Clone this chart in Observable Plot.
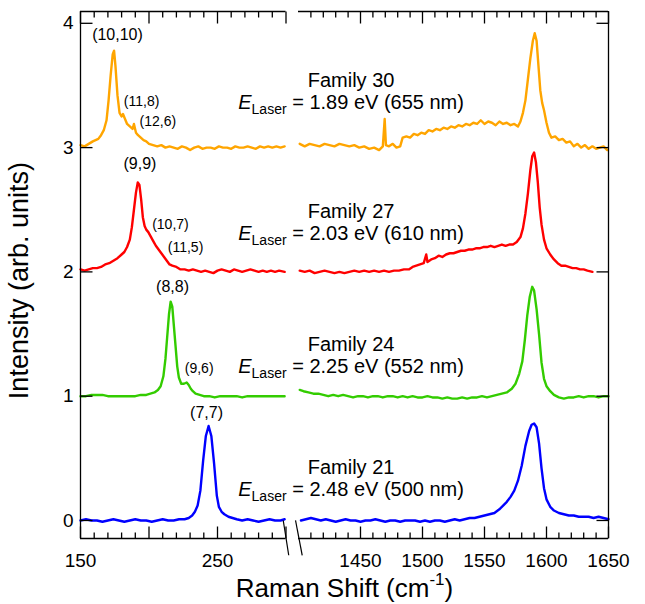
<!DOCTYPE html>
<html><head><meta charset="utf-8">
<script src="https://cdn.jsdelivr.net/npm/d3@7"></script>
<script src="https://cdn.jsdelivr.net/npm/@observablehq/plot@0.6"></script>
<style>
body{margin:0;background:#fff;}
#chart{position:relative;width:645px;height:604px;}
#chart svg{position:absolute;left:0;top:0;}
</style></head><body><div id="chart"></div>
<script>
// ---------- data (Raman shift cm^-1, offset intensity) ----------
const fam30L = [[150,3.02],[153,3.01],[156,3.03],[159,3.05],[161,3.06],[163,3.07],[165,3.10],[167,3.14],[169,3.22],[170.5,3.38],[172,3.58],[173.5,3.75],[174.5,3.78],[175.5,3.66],[177,3.42],[178.5,3.28],[180,3.25],[181,3.27],[182.5,3.23],[184,3.19],[186,3.17],[188,3.15],[189,3.19],[190.5,3.12],[192,3.10],[194,3.08],[196,3.06],[198,3.05],[200,3.03],[203,3.02],[206,3.01],[209,3.02],[212,3.00],[215,3.01],[218,3.00],[221,2.99],[224,3.01],[227,3.00],[230,2.98],[233,3.00],[236,3.01],[239,2.99],[242,3.00],[245,3.00],[248,2.99],[251,3.01],[254,3.00],[257,3.00],[260,2.99],[263,3.01],[266,3.00],[269,3.00],[272,3.01],[275,3.00],[278,2.99],[281,3.01],[284,3.00],[287,3.01],[290,3.00],[293,3.01],[296,3.00],[299,3.01]];
const fam30R = [[1401,3.03],[1405,3.01],[1409,3.03],[1413,3.02],[1417,3.01],[1421,3.03],[1425,3.02],[1429,3.01],[1433,3.03],[1437,3.02],[1441,3.01],[1445,3.02],[1449,3.00],[1453,3.01],[1457,2.99],[1461,3.00],[1465,2.98],[1468,3.01],[1469.5,3.23],[1470.5,3.02],[1473,3.01],[1476,3.03],[1479,3.00],[1482,3.01],[1484,3.08],[1487,3.09],[1490,3.08],[1493,3.11],[1496,3.10],[1499,3.12],[1502,3.11],[1505,3.14],[1508,3.13],[1511,3.15],[1514,3.14],[1517,3.16],[1520,3.15],[1523,3.17],[1526,3.16],[1529,3.18],[1532,3.17],[1535,3.19],[1538,3.18],[1541,3.20],[1544,3.19],[1547,3.22],[1550,3.19],[1553,3.21],[1556,3.20],[1559,3.18],[1562,3.21],[1565,3.19],[1568,3.20],[1571,3.18],[1574,3.19],[1577,3.17],[1579,3.21],[1581,3.28],[1583,3.38],[1585,3.55],[1587,3.72],[1589,3.86],[1590.5,3.92],[1592,3.86],[1593.5,3.66],[1595,3.46],[1596.5,3.36],[1598,3.30],[1600,3.20],[1602,3.12],[1604,3.08],[1607,3.09],[1610,3.06],[1613,3.07],[1616,3.04],[1619,3.05],[1622,3.01],[1625,3.03],[1628,3.00],[1631,3.02],[1634,2.99],[1637,3.01],[1640,2.99],[1643,3.00],[1646,3.01],[1649,2.98]];
const fam27L = [[150,2.02],[153,2.01],[156,2.02],[159,2.03],[162,2.03],[165,2.04],[168,2.06],[171,2.07],[174,2.09],[177,2.11],[180,2.14],[182,2.16],[184,2.20],[186,2.26],[187.5,2.36],[189,2.50],[190.5,2.64],[191.8,2.72],[193,2.70],[194.3,2.58],[195.5,2.44],[196.8,2.37],[198,2.34],[199.5,2.32],[201,2.29],[203,2.25],[205,2.21],[207,2.18],[209,2.15],[211,2.12],[213,2.09],[215,2.06],[217,2.05],[220,2.04],[223,2.02],[226,2.02],[229,2.01],[232,2.02],[235,2.01],[238,2.00],[241,2.01],[244,2.00],[247,1.99],[250,2.01],[253,2.02],[256,2.01],[259,2.00],[262,2.02],[265,2.01],[268,2.00],[271,2.01],[274,2.02],[277,2.01],[280,2.00],[283,2.01],[286,2.00],[289,2.01],[292,2.00],[295,2.01],[299,2.00]];
const fam27R = [[1401,2.01],[1405,2.00],[1409,2.01],[1413,1.99],[1417,2.00],[1421,2.01],[1425,2.00],[1429,1.99],[1433,2.00],[1437,1.99],[1441,2.00],[1445,2.01],[1449,2.00],[1453,2.01],[1457,2.00],[1461,2.01],[1465,2.00],[1469,2.01],[1473,2.00],[1477,2.01],[1481,2.01],[1485,2.02],[1489,2.02],[1492,2.04],[1495,2.05],[1498,2.06],[1501,2.07],[1503,2.14],[1504,2.08],[1507,2.10],[1510,2.11],[1513,2.13],[1516,2.12],[1519,2.14],[1522,2.15],[1525,2.15],[1528,2.16],[1531,2.17],[1534,2.17],[1537,2.18],[1540,2.18],[1543,2.19],[1546,2.19],[1549,2.20],[1552,2.20],[1555,2.21],[1558,2.20],[1561,2.21],[1564,2.22],[1567,2.21],[1570,2.22],[1573,2.22],[1576,2.24],[1579,2.28],[1581,2.35],[1583,2.47],[1585,2.63],[1587,2.82],[1588.5,2.93],[1590,2.96],[1591.5,2.88],[1593,2.72],[1594.5,2.52],[1596,2.38],[1598,2.26],[1600,2.19],[1603,2.14],[1606,2.10],[1609,2.07],[1612,2.05],[1615,2.05],[1618,2.04],[1621,2.03],[1624,2.03],[1627,2.02],[1630,2.02],[1633,2.01],[1637,2.00]];
const fam24L = [[150,1.00],[154,1.00],[158,1.01],[162,1.01],[166,1.01],[170,1.00],[174,1.00],[178,1.00],[182,1.00],[186,1.00],[190,1.00],[194,1.01],[198,1.01],[201,1.02],[204,1.03],[206.5,1.05],[208.5,1.08],[210.5,1.16],[212,1.30],[213.3,1.48],[214.6,1.66],[215.8,1.76],[217,1.72],[218.2,1.56],[219.4,1.40],[220.6,1.24],[221.8,1.15],[223.5,1.10],[225.5,1.10],[227.5,1.11],[229,1.09],[230.5,1.06],[232,1.04],[234,1.02],[237,1.01],[240,1.00],[244,1.00],[248,0.99],[252,1.00],[256,1.00],[260,1.00],[264,1.00],[268,0.99],[272,1.00],[276,1.00],[280,1.00],[284,1.00],[288,1.00],[292,1.00],[296,1.00],[299,1.00]];
const fam24R = [[1401,1.05],[1404,1.04],[1408,1.03],[1412,1.02],[1416,1.02],[1420,1.01],[1424,1.00],[1428,1.01],[1432,1.00],[1436,1.01],[1440,1.00],[1444,0.99],[1448,1.00],[1452,1.00],[1456,0.99],[1460,1.00],[1464,1.00],[1468,0.99],[1472,1.00],[1476,1.00],[1480,0.99],[1484,1.00],[1488,0.99],[1492,1.00],[1496,0.99],[1500,0.99],[1504,1.00],[1508,0.99],[1512,0.99],[1516,0.98],[1520,0.99],[1524,0.98],[1528,0.98],[1532,0.99],[1536,0.98],[1540,0.99],[1544,0.99],[1548,1.00],[1552,0.99],[1556,1.00],[1560,1.01],[1564,1.02],[1568,1.03],[1572,1.06],[1575,1.10],[1578,1.18],[1580.5,1.28],[1582.5,1.45],[1584.5,1.65],[1586.5,1.80],[1588.5,1.88],[1590,1.85],[1592,1.70],[1594,1.50],[1596,1.27],[1598,1.14],[1600,1.08],[1603,1.04],[1606,1.01],[1610,0.99],[1614,0.98],[1618,0.99],[1622,0.99],[1626,1.00],[1630,0.99],[1634,1.00],[1638,1.00],[1642,0.99],[1646,1.00],[1650,1.00]];
const fam21L = [[150,0.00],[154,0.01],[158,0.00],[162,0.00],[166,-0.01],[170,0.00],[174,0.01],[178,0.00],[182,-0.01],[186,0.00],[190,0.01],[194,0.00],[198,0.00],[202,-0.01],[206,0.00],[210,0.01],[214,0.00],[218,0.00],[222,0.01],[226,0.01],[229,0.02],[231.5,0.04],[233.5,0.07],[235.5,0.12],[237.5,0.24],[239.5,0.48],[241.5,0.68],[243.5,0.76],[245.5,0.68],[247.5,0.46],[249.5,0.20],[251,0.11],[253,0.07],[255,0.05],[258,0.03],[261,0.02],[264,0.01],[268,0.00],[272,0.01],[276,0.00],[280,-0.01],[284,0.00],[288,0.01],[292,0.00],[296,0.00],[299,0.01]];
const fam21R = [[1402,0.00],[1406,0.01],[1410,0.02],[1414,0.01],[1418,0.00],[1422,0.01],[1426,0.00],[1430,-0.01],[1434,0.00],[1438,0.01],[1442,0.00],[1446,0.00],[1450,-0.01],[1454,0.00],[1458,0.00],[1462,0.01],[1466,0.00],[1470,-0.01],[1474,0.00],[1478,0.00],[1482,-0.01],[1486,0.00],[1490,0.00],[1494,0.00],[1498,-0.01],[1502,0.00],[1506,-0.01],[1510,0.00],[1514,0.00],[1518,-0.01],[1522,0.00],[1526,0.01],[1530,0.00],[1534,0.01],[1538,0.02],[1542,0.02],[1546,0.03],[1550,0.04],[1554,0.05],[1558,0.06],[1562,0.09],[1565,0.12],[1568,0.15],[1571,0.19],[1574,0.24],[1577,0.32],[1580,0.44],[1583,0.60],[1586,0.72],[1588,0.77],[1590,0.78],[1592,0.75],[1594,0.62],[1596,0.42],[1598,0.26],[1600,0.17],[1603,0.11],[1606,0.08],[1610,0.06],[1614,0.05],[1618,0.04],[1622,0.04],[1626,0.03],[1630,0.03],[1634,0.03],[1638,0.02],[1642,0.03],[1646,0.02],[1650,0.01]];

const seriesColors = ["#FFA500", "#FF0000", "#33CC00", "#0000FF"];
const leftSeries = [fam30L, fam27L, fam24L, fam21L];
const rightSeries = [fam30R, fam27R, fam24R, fam21R];

const yTicks = [0, 1, 2, 3, 4];
const leftMajorTicks = [150, 200, 250, 300];
const leftMinorTicks = [160, 170, 180, 190, 210, 220, 230, 240, 260, 270, 280, 290];
const leftTickLabels = [150, 250];
const rightMajorTicks = [1450, 1500, 1550, 1600, 1650];
const rightMinorTicks = [1410, 1420, 1430, 1440, 1460, 1470, 1480, 1490, 1510, 1520, 1530, 1540, 1560, 1570, 1580, 1590, 1610, 1620, 1630, 1640];

// annotations
const familyTitles = [
  {text: "Family 30", x: 347.5, y: 3.486},
  {text: "Family 27", x: 347.5, y: 2.43},
  {text: "Family 24", x: 347.5, y: 1.362},
  {text: "Family 21", x: 347.5, y: 0.370}
];
const laserLines = [
  {text: "E_Laser = 1.89 eV (655 nm)", x: 347.5, y: 3.312},
  {text: "E_Laser = 2.03 eV (610 nm)", x: 347.5, y: 2.253},
  {text: "E_Laser = 2.25 eV (552 nm)", x: 347.5, y: 1.183},
  {text: "E_Laser = 2.48 eV (500 nm)", x: 347.5, y: 0.193}
];
const mainPeaks = [
  {text: "(10,10)", x: 177.0, y: 3.862},
  {text: "(9,9)", x: 193.4, y: 2.824},
  {text: "(8,8)", x: 217.2, y: 1.842},
  {text: "(7,7)", x: 242.0, y: 0.821}
];
const sidePeaks = [
  {text: "(11,8)", x: 181.6, y: 3.331},
  {text: "(12,6)", x: 193.1, y: 3.170},
  {text: "(10,7)", x: 202.3, y: 2.349},
  {text: "(11,5)", x: 213.7, y: 2.164},
  {text: "(9,6)", x: 226.1, y: 1.183}
];
const xTitle = [{text: "Raman Shift (cm^-1)", x: 342.7, y: -0.619}];
const yTitle = [{text: "Intensity (arb. units)", x: 112, y: 1.93}];
const leftBreak = [{x1: 298, x2: 302, y1: 0.0, y2: -0.28}];
const rightBreak = [{x1: 1397.6, x2: 1403, y1: 0.0, y2: -0.28}];

// ---------- layout ----------
const W = 645, H = 604, MT = 11, MB = 66;
const PH = H - MT - MB;                 // frame height (px)
const LW = 285.5 - 80, RW = 608 - 298;  // frame widths (px)
const yDomain = [-0.145, 4.095];
const leftDomain = [150, 300], rightDomain = [1400, 1650];
const FONT = '"Liberation Sans", Arial, Helvetica, sans-serif';
const baseStyle = {fontFamily: FONT, fontSize: "19px", color: "#000", background: "none", overflow: "visible"};
const frameW = 1.3, tickW = 1.3, MAJ = 12, MIN = 6;
const yPer = (yDomain[1] - yDomain[0]) / PH;
const lxPer = (leftDomain[1] - leftDomain[0]) / LW;
const rxPer = (rightDomain[1] - rightDomain[0]) / RW;
const fmt = d => String(d);
const toRows = (arr) => arr.map(([x, y]) => ({x, y}));
const lineMarks = (list) => list.map((s, i) => Plot.line(toRows(s), {x: "x", y: "y", stroke: seriesColors[i], strokeWidth: 2.4, strokeLinejoin: "round", strokeLinecap: "round"}));

// inward tick marks drawn as links between scale positions
function xTickMarks(major, minor) {
  const b = yDomain[0], t = yDomain[1];
  const mk = (vals, y1, y2) => Plot.link(vals, {x1: d => d, x2: d => d, y1: () => y1, y2: () => y2, stroke: "#000", strokeWidth: tickW});
  return [
    mk(major, b, b + MAJ * yPer),
    mk(minor, b, b + MIN * yPer),
    mk(major, t, t - MAJ * yPer),
    mk(minor, t, t - MIN * yPer)
  ];
}
const yTickMarks = (x1, x2) => Plot.link(yTicks, {x1: () => x1, x2: () => x2, y1: d => d, y2: d => d, stroke: "#000", strokeWidth: tickW});

const left = Plot.plot({
  width: W, height: H, marginLeft: 80, marginRight: W - 285.5, marginTop: MT, marginBottom: MB,
  style: baseStyle,
  x: {domain: leftDomain, label: null},
  y: {domain: yDomain, label: null},
  marks: [
    ...lineMarks(leftSeries),
    Plot.ruleX([leftDomain[0]], {strokeWidth: frameW}),
    Plot.ruleY([yDomain[0]], {strokeWidth: frameW}),
    Plot.ruleY([yDomain[1]], {strokeWidth: frameW}),
    yTickMarks(leftDomain[0], leftDomain[0] + MAJ * lxPer),
    ...xTickMarks(leftMajorTicks, leftMinorTicks),
    Plot.axisY({anchor: "left", ticks: yTicks, tickSize: 0, tickPadding: 7, tickFormat: fmt, label: null, fontSize: 19}),
    Plot.axisX({anchor: "bottom", ticks: leftTickLabels, tickSize: 0, tickPadding: 15, tickFormat: fmt, label: null, fontSize: 19}),
    Plot.link(leftBreak, {x1: "x1", x2: "x2", y1: "y1", y2: "y2", stroke: "#000", strokeWidth: 1.2}),
    Plot.text(familyTitles, {x: "x", y: "y", text: "text", fontSize: 20, lineAnchor: "bottom", textAnchor: "middle", fill: "#000"}),
    Plot.text(laserLines, {x: "x", y: "y", text: "text", fontSize: 20, lineAnchor: "bottom", textAnchor: "middle", fill: "#000"}),
    Plot.text(mainPeaks, {x: "x", y: "y", text: "text", fontSize: 16, lineAnchor: "bottom", textAnchor: "middle", fill: "#000"}),
    Plot.text(sidePeaks, {x: "x", y: "y", text: "text", fontSize: 14, lineAnchor: "bottom", textAnchor: "start", fill: "#000"}),
    Plot.text(xTitle, {x: "x", y: "y", text: "text", fontSize: 26, lineAnchor: "bottom", textAnchor: "middle", fill: "#000"}),
    Plot.text(yTitle, {x: "x", y: "y", text: "text", fontSize: 27, lineAnchor: "bottom", textAnchor: "middle", rotate: -90, fill: "#000"})
  ]
});

const right = Plot.plot({
  width: W, height: H, marginLeft: 298, marginRight: 37, marginTop: MT, marginBottom: MB,
  style: baseStyle,
  x: {domain: rightDomain, label: null},
  y: {domain: yDomain, label: null, axis: null},
  marks: [
    ...lineMarks(rightSeries),
    Plot.ruleX([rightDomain[1]], {strokeWidth: frameW}),
    Plot.ruleY([yDomain[0]], {strokeWidth: frameW}),
    Plot.ruleY([yDomain[1]], {strokeWidth: frameW}),
    yTickMarks(rightDomain[1] - MAJ * rxPer, rightDomain[1]),
    ...xTickMarks(rightMajorTicks, rightMinorTicks),
    Plot.axisX({anchor: "bottom", ticks: rightMajorTicks, tickSize: 0, tickPadding: 15, tickFormat: fmt, label: null, fontSize: 19}),
    Plot.link(rightBreak, {x1: "x1", x2: "x2", y1: "y1", y2: "y2", stroke: "#000", strokeWidth: 1.2})
  ]
});

// rich text: italic E with subscript, superscript -1
const NS = "http://www.w3.org/2000/svg";
function span(txt, attrs) {
  const t = document.createElementNS(NS, "tspan");
  for (const k in attrs) t.setAttribute(k, attrs[k]);
  t.textContent = txt;
  return t;
}
function richify(svg) {
  svg.querySelectorAll("text").forEach(t => {
    const s = t.textContent;
    if (s.startsWith("E_Laser")) {
      const rest = s.slice(7);
      t.textContent = "";
      t.append(span("E", {"font-style": "italic"}), span("Laser", {"font-size": "14", dy: "5"}), span(rest, {dy: "-5"}));
    } else if (s.includes("^-1")) {
      const [a, b] = s.split("^-1");
      t.textContent = "";
      t.append(span(a, {}), span("-1", {"font-size": "17", dy: "-12"}), span(b, {dy: "12"}));
    }
  });
}
richify(left);
const chart = document.getElementById("chart");
chart.append(left, right);
</script></body></html>
